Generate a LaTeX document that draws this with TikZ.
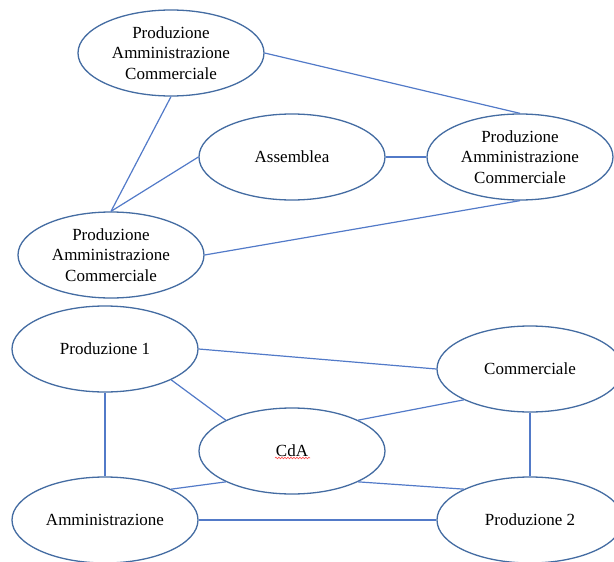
\documentclass[tikz,border=0pt]{standalone}
\usepackage{fontspec}
\setmainfont{Liberation Serif}
\usetikzlibrary{shapes.geometric,decorations.pathmorphing}
\definecolor{ringblue}{RGB}{68,108,162}
\definecolor{linkblue}{RGB}{82,122,200}
\begin{document}
\begin{tikzpicture}[x=1pt,y=-1pt,
	unit/.style={ellipse,draw=ringblue,line width=1.3pt,minimum width=186pt,minimum height=86pt,inner sep=0pt,align=center,font=\fontsize{17}{20.5}\selectfont},
	link/.style={draw=linkblue,line width=1.2pt}]
	\useasboundingbox (0,0) rectangle (614,562);
	% parte alta
	\node[unit] (pac1) at (171,53) {Produzione\\Amministrazione\\Commerciale};
	\node[unit] (ass) at (292,157) {Assemblea};
	\node[unit] (pac2) at (520,157) {Produzione\\Amministrazione\\Commerciale};
	\node[unit] (pac3) at (111,255) {Produzione\\Amministrazione\\Commerciale};
	\draw[link] (pac1.east) -- (pac2.north);
	\draw[link] (pac1.south) -- (pac3.north);
	\draw[link] (ass.west) -- (pac3.north);
	\draw[link] (ass.east) -- (pac2.west);
	\draw[link] (pac2.south) -- (pac3.east);
	% parte bassa
	\node[unit] (prod1) at (105,349) {Produzione 1};
	\node[unit] (comm) at (530,369) {Commerciale};
	\node[unit] (cda) at (292,451) {CdA};
	\node[unit] (amm) at (105,520) {Amministrazione};
	\node[unit] (prod2) at (530,520) {Produzione 2};
	\draw[link] (prod1.east) -- (comm.west);
	\draw[link] (prod1.south east) -- (cda.north west);
	\draw[link] (cda.north east) -- (comm.south west);
	\draw[link] (comm.south) -- (prod2.north);
	\draw[link] (prod1.south) -- (amm.north);
	\draw[link] (cda.south west) -- (amm.north east);
	\draw[link] (cda.south east) -- (prod2.north west);
	\draw[link] (amm.east) -- (prod2.west);
	\draw[red!70,line width=0.6pt,decorate,decoration={snake,amplitude=0.8pt,segment length=3pt}] ([xshift=-17pt,yshift=-7pt]cda.center) -- ([xshift=18pt,yshift=-7pt]cda.center);
\end{tikzpicture}
\end{document}
